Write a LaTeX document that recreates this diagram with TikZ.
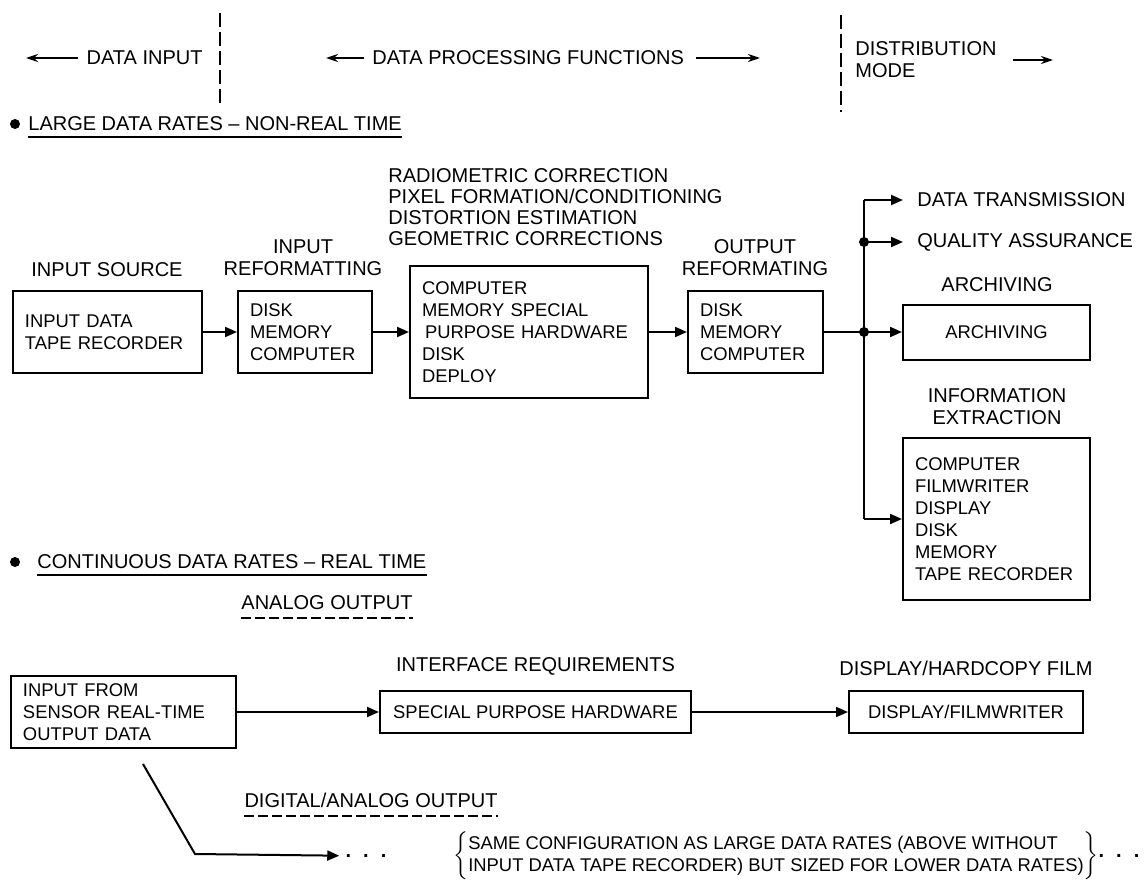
\documentclass[tikz,border=0pt]{standalone}
\usepackage{fontspec}
\setmainfont{Liberation Sans}
\usepackage{tikz}
\usetikzlibrary{arrows.meta,positioning}
\newcommand{\bxfont}{\fontsize{9.2}{11}\selectfont}
\newcommand{\lbfont}{\fontsize{10}{11}\selectfont}
\newcommand{\dotsrow}{\textbf{.\hspace{6pt}.\hspace{6pt}.}}

\begin{document}
\begin{tikzpicture}[x=0.5pt,y=-0.5pt,
  bx/.style={draw,line width=1pt,align=left,font=\bxfont,inner xsep=6pt,inner ysep=3pt,text width=#1},
  cb/.style={draw,line width=1pt,align=center,font=\bxfont},
  lb/.style={font=\lbfont,align=center,inner sep=0pt},
  ln/.style={line width=1pt},
  ar/.style={line width=1pt,-{Triangle[length=6pt,width=5pt]}},
  hd/.style={line width=0.8pt,-{Stealth[length=6pt,width=4pt]}},
  sep/.style={line width=1pt,dash pattern=on 7pt off 2.5pt},
  blt/.style={circle,fill,inner sep=0pt,minimum size=5pt}]
  \useasboundingbox (0,0) rectangle (1147,894);
  % header
  \node[lb,anchor=east] (din) at (203,58) {DATA INPUT};
  \coordinate (dinA) at (26,58);
  \draw[hd,shorten <=4pt] (din) -- (dinA);
  \coordinate (s1a) at (220,13); \coordinate (s1b) at (220,105);
  \draw[sep] (s1a) -- (s1b);
  \node[lb,anchor=west] (dpf) at (372,58) {DATA PROCESSING FUNCTIONS};
  \coordinate (dpfA) at (326,58); \coordinate (dpfB) at (760,58);
  \draw[hd,shorten <=4pt] (dpf) -- (dpfA);
  \draw[hd,shorten <=6pt] (dpf) -- (dpfB);
  \coordinate (s2a) at (841,15); \coordinate (s2b) at (841,112);
  \draw[sep] (s2a) -- (s2b);
  \node[lb,anchor=west,align=left] (dm) at (855,60) {DISTRIBUTION\\MODE};
  \coordinate (dmA) at (1053,60);
  \draw[hd,shorten <=8pt] (dm.east) -- (dmA);
  % large data rates
  \node[blt] (bl1) at (15,124) {};
  \node[lb,anchor=west] (lr) at (28,124) {LARGE DATA RATES -- NON-REAL TIME};
  \draw[ln] ([yshift=-3pt]lr.south west) -- ([yshift=-3pt]lr.south east);
  \node[bx=82.5pt,minimum height=41pt] (src) at (107.5,332) {INPUT DATA\\TAPE RECORDER};
  \node[bx=55pt,minimum height=41pt] (inref) at (305,332) {DISK\\MEMORY\\COMPUTER};
  \node[bx=107pt,minimum height=66pt] (proc) at (529,332) {COMPUTER\\MEMORY SPECIAL\\\,PURPOSE HARDWARE\\DISK\\DEPLOY};
  \node[bx=55.5pt,minimum height=41pt] (outref) at (755.5,332) {DISK\\MEMORY\\COMPUTER};
  \node[cb,minimum width=93.5pt,minimum height=27.5pt] (arch) at (996.5,332) {ARCHIVING};
  \node[bx=81.5pt,minimum height=81pt] (info) at (996.5,519) {COMPUTER\\FILMWRITER\\DISPLAY\\DISK\\MEMORY\\TAPE RECORDER};
  \node[lb] (srcl) at (107,270) {INPUT SOURCE};
  \node[lb] (inrefl) at (303,258) {INPUT\\REFORMATTING};
  \node[lb,align=left,anchor=west,font=\fontsize{10}{10.5}\selectfont] (corr) at (388,207)
    {RADIOMETRIC CORRECTION\\PIXEL FORMATION/CONDITIONING\\DISTORTION ESTIMATION\\GEOMETRIC CORRECTIONS};
  \node[lb] (outrefl) at (755,258) {OUTPUT\\REFORMATING};
  \node[lb] (archl) at (997,285) {ARCHIVING};
  \node[lb] (infol) at (997,407) {INFORMATION\\EXTRACTION};
  \node[lb,anchor=west] (tx) at (917,200) {DATA TRANSMISSION};
  \node[lb,anchor=west] (qa) at (917,242) {QUALITY ASSURANCE};
  \foreach \a/\b in {src/inref,inref/proc,proc/outref} \draw[ar] (\a) -- (\b);
  \coordinate (j0) at (864,200); \coordinate (j1) at (864,242);
  \coordinate (j2) at (864,332); \coordinate (j3) at (864,519);
  \draw[ln] (outref) -- (j2);
  \draw[ln] (j0) -- (j3);
  \draw[ar,shorten >=7pt] (j0) -- (tx);
  \draw[ar,shorten >=7pt] (j1) -- (qa);
  \draw[ar] (j2) -- (arch);
  \draw[ar] (j3) -- (info);
  \node[blt] (dt1) at (j1) {};
  \node[blt] (dt2) at (j2) {};
  % continuous data rates
  \node[blt] (bl2) at (15,562) {};
  \node[lb,anchor=west] (rt) at (37,562) {CONTINUOUS DATA RATES -- REAL TIME};
  \draw[ln] ([yshift=-3pt]rt.south west) -- ([yshift=-3pt]rt.south east);
  \node[lb] (ao) at (327,603) {ANALOG OUTPUT};
  \draw[sep,dash pattern=on 5pt off 2pt] ([yshift=-4pt]ao.south west) -- ([yshift=-4pt]ao.south east);
  \node[bx=100.5pt,minimum height=36pt] (sens) at (123.5,712) {INPUT FROM\\SENSOR REAL-TIME\\OUTPUT DATA};
  \node[cb,minimum width=155.5pt,minimum height=21pt] (sph) at (535.5,712) {SPECIAL PURPOSE HARDWARE};
  \node[cb,minimum width=117pt,minimum height=21pt] (dsp) at (966,712) {DISPLAY/FILMWRITER};
  \node[lb,above=7pt of sph] (sphl) {INTERFACE REQUIREMENTS};
  \node[lb,above=7pt of dsp] (dspl) {DISPLAY/HARDCOPY FILM};
  \foreach \a/\b in {sens/sph,sph/dsp} \draw[ar] (\a) -- (\b);
  \node[lb] (dao) at (371,800) {DIGITAL/ANALOG OUTPUT};
  \draw[sep,dash pattern=on 5pt off 2pt] ([yshift=-4pt]dao.south west) -- ([yshift=-4pt]dao.south east);
  \node[lb] (dl) at (366,856) {\dotsrow};
  \node[lb,font=\bxfont] (same) at (776,856) {$\left\{\begin{tabular}{@{}l@{}}SAME CONFIGURATION AS LARGE DATA RATES (ABOVE WITHOUT\\INPUT DATA TAPE RECORDER) BUT SIZED FOR LOWER DATA RATES)\end{tabular}\right\}$};
  \node[lb] (dr) at (1119,856) {\dotsrow};
  \coordinate (d0) at (143,764); \coordinate (d1) at (195,854);
  \draw[ar,shorten >=3pt] (d0) -- (d1) -- (dl);
\end{tikzpicture}
\end{document}
